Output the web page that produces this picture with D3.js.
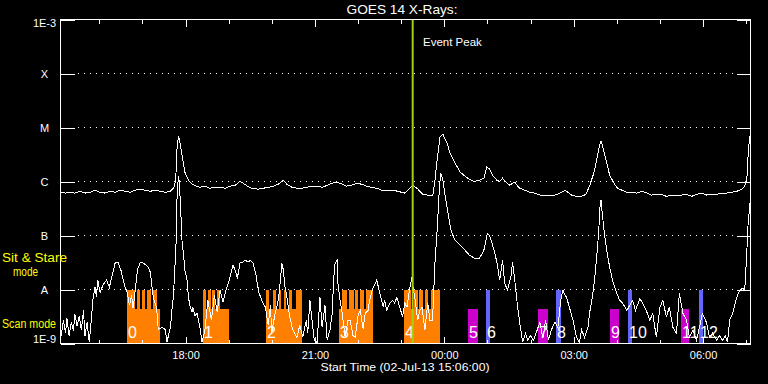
<!DOCTYPE html>
<html><head><meta charset="utf-8">
<script src="https://cdn.jsdelivr.net/npm/d3@7"></script>
<style>body{margin:0;background:#000;}svg{display:block}</style>
</head><body><svg id="c" width="768" height="384"></svg>
<script>
// ---------- DATA ----------
const startTime = "2013-07-02T15:06:00Z";
const endTime = "2013-07-03T07:06:00Z";
const eventPeakMin = 490; // minutes after start
const yLevels = [1e-9, 1e-8, 1e-7, 1e-6, 1e-5, 1e-4, 1e-3];
const yLabels = ["1E-9", "A", "B", "C", "M", "X", "1E-3"];
const xMajorTicks = ["2013-07-02T18:00:00Z", "2013-07-02T21:00:00Z", "2013-07-03T00:00:00Z", "2013-07-03T03:00:00Z", "2013-07-03T06:00:00Z"];
const xTickLabels = ["18:00", "21:00", "00:00", "03:00", "06:00"];
// [minutes after start, flux W/m^2]
const longChannel = [[1,6.3e-7],[7,6.1e-7],[14,6.3e-7],[20,6.1e-7],[27,6.6e-7],[34,6.1e-7],[41,6.3e-7],[48,6.9e-7],[55,6.3e-7],[62,6.1e-7],[69,6.6e-7],[76,6.3e-7],[83,6.9e-7],[90,6.6e-7],[97,6.3e-7],[104,6.9e-7],[111,7.2e-7],[118,6.9e-7],[125,6.6e-7],[132,6.9e-7],[139,6.6e-7],[146,6.3e-7],[153,6.6e-7],[157,7.5e-7],[159,8.5e-7],[161,1.6e-6],[162,3.8e-6],[164,6.9e-6],[165,6.3e-6],[168,3.8e-6],[171,2.2e-6],[173,1.49e-6],[178,1.06e-6],[183,8.9e-7],[189,8.2e-7],[194,7.8e-7],[201,8.2e-7],[208,7.5e-7],[215,7.8e-7],[222,7.8e-7],[229,7.5e-7],[236,8.2e-7],[243,8.5e-7],[250,1.01e-6],[254,9.3e-7],[260,8.2e-7],[266,7.5e-7],[275,7.2e-7],[282,7.5e-7],[289,7.8e-7],[296,8.2e-7],[303,8.9e-7],[310,1.06e-6],[315,8.9e-7],[322,7.8e-7],[329,7.5e-7],[336,7.5e-7],[343,7.8e-7],[350,8.2e-7],[357,8.2e-7],[364,7.8e-7],[371,8.5e-7],[378,9.3e-7],[385,9.7e-7],[392,8.9e-7],[398,8.2e-7],[405,8.5e-7],[412,9.3e-7],[419,8.9e-7],[426,8.2e-7],[433,7.8e-7],[440,7.5e-7],[447,6.9e-7],[454,6.9e-7],[462,6.9e-7],[469,6.6e-7],[479,6.1e-7],[486,7.5e-7],[490,8.5e-7],[496,7.5e-7],[504,5.8e-7],[511,5.6e-7],[518,5.6e-7],[521,1.06e-6],[524,2.5e-6],[528,6.6e-6],[532,7.5e-6],[538,5.1e-6],[542,3.3e-6],[549,2.2e-6],[556,1.49e-6],[563,1.25e-6],[569,1.1e-6],[576,1.0e-6],[583,1.06e-6],[589,1.15e-6],[593,1.84e-6],[597,1.7e-6],[601,1.31e-6],[607,1.06e-6],[611,1.0e-6],[615,1.15e-6],[620,9.7e-7],[625,8.5e-7],[629,9.3e-7],[632,9.7e-7],[636,8.2e-7],[639,7.5e-7],[646,6.9e-7],[653,6.3e-7],[660,6.1e-7],[667,5.6e-7],[674,5.6e-7],[681,5.6e-7],[688,5.6e-7],[695,6.1e-7],[702,6.9e-7],[706,6.3e-7],[711,5.6e-7],[718,5.3e-7],[725,5.3e-7],[731,5.8e-7],[736,8.2e-7],[742,1.43e-6],[746,2.5e-6],[749,4.1e-6],[752,5.6e-6],[754,4.7e-6],[759,2.5e-6],[764,1.31e-6],[770,9.3e-7],[775,7.5e-7],[781,6.9e-7],[788,6.3e-7],[795,6.3e-7],[802,6.1e-7],[809,6.6e-7],[816,6.1e-7],[822,5.6e-7],[829,5.8e-7],[836,5.8e-7],[843,5.3e-7],[850,5.6e-7],[857,5.6e-7],[864,5.6e-7],[871,5.8e-7],[878,5.3e-7],[885,5.8e-7],[892,6.1e-7],[899,5.6e-7],[906,5.8e-7],[913,5.8e-7],[920,6.1e-7],[927,6.1e-7],[934,6.3e-7],[941,6.6e-7],[948,7.2e-7],[952,8.2e-7],[955,1.15e-6],[956,2.0e-6],[957,3.8e-6],[959,6.9e-6]];
const shortChannel = [[1,1.4e-9],[4,2.7e-9],[7,1.6e-9],[9,2.9e-9],[12,1.37e-9],[15,2.5e-9],[18,1.7e-9],[20,3.5e-9],[23,2.1e-9],[26,3.2e-9],[29,1.8e-9],[32,4.1e-9],[34,1.37e-9],[37,2.5e-9],[40,1.05e-9],[43,2.9e-9],[45,6.3e-9],[48,1.1e-8],[50,7.2e-9],[52,1.5e-8],[55,8.8e-9],[59,1.2e-8],[64,1.5e-8],[68,1.1e-8],[72,1.84e-8],[76,3.1e-8],[80,3.2e-8],[84,2.3e-8],[89,1.2e-8],[93,8.5e-9],[96,5.1e-9],[99,7.8e-9],[101,4.5e-9],[104,9.7e-9],[107,2.3e-8],[111,3.2e-8],[115,3.1e-8],[121,2.7e-8],[125,2.1e-8],[129,7.2e-9],[133,4.9e-9],[134,4.1e-9],[136,1.8e-9],[141,2.0e-9],[146,1.8e-9],[148,1.05e-9],[153,2.0e-9],[155,4.1e-9],[157,7.2e-9],[159,2.3e-8],[161,8.2e-8],[162,4.5e-7],[164,1.25e-6],[165,1.06e-6],[167,3.6e-7],[169,8.2e-8],[171,4.7e-8],[173,2.3e-8],[176,1.5e-8],[178,7.2e-9],[180,5.1e-9],[183,3.8e-9],[184,4.7e-9],[187,3.3e-9],[190,3.6e-9],[194,2.0e-9],[197,1.05e-9],[201,1.8e-9],[205,6.3e-9],[210,2.7e-9],[214,7.8e-9],[218,3.8e-9],[222,9.7e-9],[226,5.8e-9],[230,9.7e-9],[235,1.5e-8],[237,2.0e-8],[240,2.8e-8],[243,2.3e-8],[246,1.6e-8],[250,3.2e-8],[254,3.2e-8],[257,3.5e-8],[261,3.2e-8],[264,3.5e-8],[268,3.1e-8],[272,1.84e-8],[273,1.5e-8],[276,8.8e-9],[280,6.3e-9],[285,4.7e-9],[289,2.2e-9],[292,5.1e-9],[294,1.6e-9],[298,3.3e-9],[303,6.3e-9],[305,1.1e-8],[308,3.1e-8],[310,2.3e-8],[312,1.2e-8],[315,7.2e-9],[319,3.1e-9],[323,1.8e-9],[329,1.3e-9],[333,2.2e-9],[337,1.3e-9],[342,2.7e-9],[344,1.55e-9],[347,6.3e-9],[350,2.7e-9],[353,1.15e-9],[357,1.05e-9],[361,7.2e-9],[364,2.0e-9],[368,5.1e-9],[371,1.15e-9],[375,1.8e-9],[378,3.6e-9],[380,1.5e-8],[382,3.1e-8],[385,3.5e-8],[386,1.3e-8],[389,6.3e-9],[392,3.6e-9],[396,1.3e-9],[400,2.7e-9],[403,2.7e-9],[407,1.4e-9],[410,1.3e-9],[414,3.3e-9],[417,4.1e-9],[421,1.9e-9],[424,3.6e-9],[428,4.1e-9],[430,6.3e-9],[435,1.1e-8],[438,1.3e-8],[440,1.5e-8],[444,8.8e-9],[449,4.7e-9],[451,6.3e-9],[454,4.1e-9],[458,5.6e-9],[462,6.3e-9],[465,5.6e-9],[468,7.2e-9],[472,4.7e-9],[476,3.1e-9],[479,5.6e-9],[482,4.7e-9],[486,1.06e-8],[489,1.7e-8],[490,1.2e-8],[493,7.2e-9],[497,2.7e-9],[500,4.1e-9],[503,4.7e-9],[507,1.8e-9],[511,5.6e-9],[514,2.7e-9],[517,2.7e-9],[518,3.6e-9],[521,3.1e-8],[524,1.25e-7],[527,6.9e-7],[529,1.43e-6],[532,1.06e-6],[535,5.6e-7],[539,2.7e-7],[542,1.55e-7],[544,1.15e-7],[549,8.2e-8],[556,6.6e-8],[563,5.3e-8],[569,4.3e-8],[576,3.8e-8],[583,3.8e-8],[589,5.3e-8],[592,8.2e-8],[594,1.1e-7],[597,9.8e-8],[600,7.5e-8],[604,4.9e-8],[608,2.8e-8],[611,1.5e-8],[615,3.5e-8],[618,1.3e-8],[622,9.7e-9],[627,1.84e-8],[629,3.2e-8],[632,1.5e-8],[636,4.7e-9],[639,2.4e-9],[643,1.05e-9],[647,1.55e-9],[650,1.15e-9],[654,1.4e-9],[658,1.15e-9],[662,1.6e-9],[667,2.5e-9],[671,1.25e-9],[675,2.7e-9],[679,1.15e-9],[683,1.8e-9],[688,2.5e-9],[692,2.0e-9],[696,6.3e-9],[699,9.7e-9],[702,7.8e-9],[704,7.2e-9],[708,4.7e-9],[713,2.7e-9],[718,1.3e-9],[722,1.05e-9],[725,1.8e-9],[729,1.3e-9],[734,2.0e-9],[736,3.6e-9],[740,7.2e-9],[743,1.5e-8],[746,4.0e-8],[749,1.25e-7],[750,2.9e-7],[752,4.5e-7],[754,2.4e-7],[757,1.0e-7],[760,5.3e-8],[764,2.6e-8],[768,1.5e-8],[774,8.5e-9],[778,6.3e-9],[782,5.6e-9],[788,4.1e-9],[792,5.1e-9],[796,6.3e-9],[800,4.1e-9],[806,6.7e-9],[810,5.6e-9],[815,4.1e-9],[820,2.7e-9],[824,3.6e-9],[829,1.3e-9],[834,4.7e-9],[838,6.3e-9],[843,3.1e-9],[847,4.7e-9],[852,2.0e-9],[857,1.55e-9],[861,8.5e-9],[866,3.6e-9],[871,2.7e-9],[875,1.3e-9],[880,1.8e-9],[885,1.15e-9],[889,2.0e-9],[893,3.6e-9],[899,2.4e-9],[903,1.3e-9],[907,1.55e-9],[913,1.15e-9],[917,1.4e-9],[921,1.15e-9],[925,1.37e-9],[928,1.05e-9],[931,2.7e-9],[935,3.6e-9],[938,5.1e-9],[941,7.2e-9],[945,9.7e-9],[949,1.06e-8],[952,9.7e-9],[955,5.3e-8],[956,1.25e-7],[958,2.6e-7],[959,4.0e-7]];
// observation blocks, minutes after start
const scanLevel = 4.3e-9, sitStareLevel = 1e-8;
const orangeScan = [[93,138],[198,235],[286,336],[387,435],[478,528]];
const orangeSitStare = [[93,104],[107,111],[114,118],[121,126],[128,134],
  [198,203],[205,209],[211,215],[218,222],
  [286,290],[296,300],[304,307],[311,314],[318,322],[328,336],
  [392,398],[401,408],[410,414],[417,422],[425,435],
  [478,488],[492,497],[499,504],[507,511],[515,528]];
const magentaScan = [[567,581],[665,678],[764,777],[863,875]];
const blueSitStare = [[592,597],[690,696],[789,795],[888,894]];
const obsLabels = ["0","1","2","3","4","5","6","7","8","9","10","11","12"];
const obsLabelMin = [93,198,286,387,478,567,592,665,690,764,789,863,888];

// ---------- DRAW ----------
const W = 768, H = 384;
const svg = d3.select('#c');
const font = '"Liberation Sans", Arial, sans-serif';
svg.append('rect').attr('width', W).attr('height', H).attr('fill', '#000');
const t0 = new Date(startTime);
const tm = m => new Date(+t0 + m * 60000);
const x = d3.scaleUtc().domain([t0, new Date(endTime)]).range([60.5, 750.5]);
const y = d3.scaleLog().domain([1e-9, 1e-3]).range([343.5, 19.5]).clamp(true);

// dotted grid
svg.append('g').selectAll('line').data(yLevels.slice(1, -1)).join('line')
  .attr('x1', 78).attr('x2', 736).attr('y1', d => y(d)).attr('y2', d => y(d))
  .attr('stroke', '#fff').attr('stroke-dasharray', '1,5').attr('shape-rendering', 'crispEdges');

// observation bars
const bars = svg.append('g').attr('shape-rendering', 'crispEdges');
function rects(data, level, color) {
  bars.append('g').selectAll('rect').data(data).join('rect')
    .attr('x', d => Math.round(x(tm(d[0])))).attr('width', d => Math.max(1, Math.round(x(tm(d[1]))) - Math.round(x(tm(d[0])))))
    .attr('y', y(level)).attr('height', y(1e-9) - y(level)).attr('fill', color);
}
rects(orangeScan, scanLevel, '#ff8000');
rects(orangeSitStare, sitStareLevel, '#ff8000');
rects(magentaScan, scanLevel, '#cc00cc');
rects(blueSitStare, sitStareLevel, '#6464ff');

// curves
const line = d3.line().x(d => x(tm(d[0]))).y(d => y(d[1]));
[shortChannel, longChannel].forEach(data => {
  svg.append('path').datum(data).attr('d', line).attr('fill', 'none')
    .attr('stroke', '#fff').attr('stroke-width', 1).attr('shape-rendering', 'crispEdges');
});

// observation labels
svg.append('g').selectAll('text').data(obsLabels).join('text')
  .attr('x', (d, i) => Math.round(x(tm(obsLabelMin[i]))) + 1).attr('y', 338)
  .attr('fill', '#fff').attr('font-family', font).attr('font-size', 16).text(d => d);

// event peak
svg.append('line').attr('x1', x(tm(eventPeakMin))).attr('x2', x(tm(eventPeakMin)))
  .attr('y1', 19.5).attr('y2', 343.5).attr('stroke', '#a0d010').attr('stroke-width', 2);
svg.append('text').attr('x', 423).attr('y', 46).attr('fill', '#fff')
  .attr('font-family', font).attr('font-size', 11.5).text('Event Peak');

// axes
const axStyle = g => {
  g.select('.domain').remove();
  g.selectAll('line').attr('stroke', '#fff').attr('shape-rendering', 'crispEdges');
  g.selectAll('text').attr('fill', '#fff').attr('font-family', font).attr('font-size', 11);
};
const hourTicks = x.ticks(d3.utcHour.every(1));
svg.append('g').attr('transform', 'translate(0,19.5)')
  .call(d3.axisTop(x).tickValues(hourTicks).tickSize(-4).tickFormat('')).call(axStyle);
svg.append('g').attr('transform', 'translate(0,19.5)')
  .call(d3.axisTop(x).tickValues(xMajorTicks.map(d => new Date(d))).tickSize(-7).tickFormat('')).call(axStyle);
svg.append('g').attr('transform', 'translate(0,343.5)')
  .call(d3.axisBottom(x).tickValues(hourTicks).tickSize(-4).tickFormat('')).call(axStyle);
svg.append('g').attr('transform', 'translate(0,343.5)')
  .call(d3.axisBottom(x).tickValues(xMajorTicks.map(d => new Date(d))).tickSize(-7).tickPadding(8)
    .tickFormat((d, i) => xTickLabels[i])).call(axStyle);

const yl = svg.append('g').attr('transform', 'translate(60.5,0)')
  .call(d3.axisLeft(y).tickValues(yLevels).tickSize(-14).tickFormat((d, i) => yLabels[i])).call(axStyle);
yl.selectAll('text').attr('x', -16).attr('text-anchor', 'middle')
  .attr('dy', (d, i) => i === 0 ? '-0.05em' : (i === yLevels.length - 1 ? '0.68em' : '0.32em'));
svg.append('g').attr('transform', 'translate(750.5,0)')
  .call(d3.axisRight(y).tickValues(yLevels).tickSize(-14).tickFormat('')).call(axStyle);

// frame
svg.append('rect').attr('x', 60.5).attr('y', 19.5).attr('width', 690).attr('height', 324)
  .attr('fill', 'none').attr('stroke', '#fff').attr('shape-rendering', 'crispEdges');

// titles
svg.append('text').attr('x', 402).attr('y', 14).attr('text-anchor', 'middle')
  .attr('fill', '#fff').attr('font-family', font).attr('font-size', 13)
  .attr('textLength', 111).attr('lengthAdjust', 'spacingAndGlyphs').text('GOES 14 X-Rays:');
svg.append('text').attr('x', 405).attr('y', 371).attr('text-anchor', 'middle')
  .attr('fill', '#fff').attr('font-family', font).attr('font-size', 11)
  .attr('textLength', 169).attr('lengthAdjust', 'spacingAndGlyphs').text('Start Time (02-Jul-13 15:06:00)');
const yellow = [['Sit & Stare', 2, 262, 65], ['mode', 13, 276, 25], ['Scan mode', 2, 328, 54]];
svg.append('g').selectAll('text').data(yellow).join('text')
  .attr('x', d => d[1]).attr('y', d => d[2]).attr('fill', '#ffff00')
  .attr('font-family', font).attr('font-size', 12)
  .attr('textLength', d => d[3]).attr('lengthAdjust', 'spacingAndGlyphs').text(d => d[0]);
</script></body></html>
